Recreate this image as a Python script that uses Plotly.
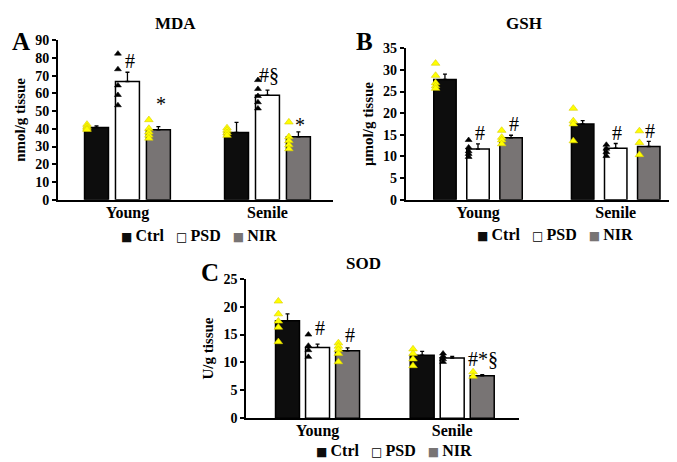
import plotly.graph_objects as go

# ---------------- data ----------------
groups = ["Young", "Senile"]
treatments = ["Ctrl", "PSD", "NIR"]
panel_titles = ["MDA", "GSH", "SOD"]
panel_letters = ["A", "B", "C"]
y_titles = ["nmol/g tissue", "µmol/g tissue", "U/g tissue"]

# MDA
mda_ctrl_mean = [40.7, 38.0]
mda_ctrl_err = [0.9, 5.6]
mda_psd_mean = [66.7, 59.0]
mda_psd_err = [5.2, 2.8]
mda_nir_mean = [39.5, 35.5]
mda_nir_err = [1.8, 2.8]
mda_ctrl_young = [42.5, 41.3, 40.3, 39.6]
mda_ctrl_senile = [40.5, 39.2, 37.8, 36.3]
mda_psd_young = [82.4, 73.6, 64.5, 59.1, 53.3]
mda_psd_senile = [67.5, 62.5, 58.5, 55.0, 51.5]
mda_nir_young = [45.1, 40.2, 38.2, 36.4, 34.7]
mda_nir_senile = [43.8, 35.5, 33.3, 30.9, 28.7]
mda_sig = [["", "#", "*"], ["", "#§", "*"]]

# GSH
gsh_ctrl_mean = [27.8, 17.5]
gsh_ctrl_err = [1.2, 0.8]
gsh_psd_mean = [11.7, 11.9]
gsh_psd_err = [1.2, 1.1]
gsh_nir_mean = [14.3, 12.3]
gsh_nir_err = [0.6, 1.2]
gsh_ctrl_young = [31.5, 28.7, 27.0, 26.3, 25.7]
gsh_ctrl_senile = [21.1, 18.2, 17.5, 13.6]
gsh_psd_young = [13.8, 12.1, 11.2, 10.6, 9.9]
gsh_psd_senile = [12.7, 11.8, 11.0, 10.1]
gsh_nir_young = [16.0, 14.4, 13.8, 12.9]
gsh_nir_senile = [15.9, 13.2, 10.4]
gsh_sig = [["", "#", "#"], ["", "#", "#"]]

# SOD
sod_ctrl_mean = [17.5, 11.3]
sod_ctrl_err = [1.2, 0.7]
sod_psd_mean = [12.7, 10.8]
sod_psd_err = [0.6, 0.3]
sod_nir_mean = [12.1, 7.6]
sod_nir_err = [0.5, 0.2]
sod_ctrl_young = [21.0, 18.7, 17.4, 16.3, 13.7]
sod_ctrl_senile = [12.4, 11.6, 10.6, 9.4]
sod_psd_young = [15.0, 13.0, 12.2, 11.0]
sod_psd_senile = [11.6, 11.1, 10.6, 10.1]
sod_nir_young = [13.5, 12.9, 12.3, 11.6, 10.1]
sod_nir_senile = [8.3, 7.5]
sod_sig = [["", "#", "#"], ["", "", "#*§"]]

# ---------------- style / layout ----------------
FONT = "Liberation Serif"
bar_fill = ["#0d0d0d", "#ffffff", "#787474"]
legend_glyph = ["■", "□", "■"]
legend_glyph_color = ["#0d0d0d", "#000000", "#787474"]
point_fill = ["#ffff00", "#000000", "#ffff00"]
point_line = ["#d8cc00", "#000000", "#d8cc00"]

# label (text-centre) heights for significance marks, in data units
mda_sig_y = [[None, 78.0, 53.8], [None, 70.5, 42.0]]
gsh_sig_y = [[None, 15.5, 17.5], [None, 15.5, 15.9]]
sod_sig_y = [[None, 16.2, 14.9], [None, None, 10.7]]
sig_dx = [[0, 0.016, 0.018], [0, 0.01, 0.008]]

panels = [
    dict(means=[mda_ctrl_mean, mda_psd_mean, mda_nir_mean],
         errs=[mda_ctrl_err, mda_psd_err, mda_nir_err],
         pts=[[mda_ctrl_young, mda_ctrl_senile], [mda_psd_young, mda_psd_senile],
              [mda_nir_young, mda_nir_senile]],
         sig=mda_sig, sig_y=mda_sig_y,
         xdom=[50 / 677, 325 / 677], ydom=[1 - 191 / 462, 1 - 26 / 462],
         xr=[-0.496, 1.468], yr=[0, 90], dtick=10, sp=0.221, bw=0.171,
         title_xy=(167, 9), letter_xy=(13, 27), legend_xy=(191, 228)),
    dict(means=[gsh_ctrl_mean, gsh_psd_mean, gsh_nir_mean],
         errs=[gsh_ctrl_err, gsh_psd_err, gsh_nir_err],
         pts=[[gsh_ctrl_young, gsh_ctrl_senile], [gsh_psd_young, gsh_psd_senile],
              [gsh_nir_young, gsh_nir_senile]],
         sig=gsh_sig, sig_y=gsh_sig_y,
         xdom=[397.7 / 677, 673 / 677], ydom=[1 - 191 / 462, 1 - 34.3 / 462],
         xr=[-0.525, 1.474], yr=[0, 35], dtick=5, sp=0.24, bw=0.163,
         title_xy=(516, 9), letter_xy=(356, 27), legend_xy=(547, 227)),
    dict(means=[sod_ctrl_mean, sod_psd_mean, sod_nir_mean],
         errs=[sod_ctrl_err, sod_psd_err, sod_nir_err],
         pts=[[sod_ctrl_young, sod_ctrl_senile], [sod_psd_young, sod_psd_senile],
              [sod_nir_young, sod_nir_senile]],
         sig=sod_sig, sig_y=sod_sig_y,
         xdom=[238.3 / 677, 511 / 677], ydom=[1 - 416.7 / 462, 1 - 272.7 / 462],
         xr=[-0.529, 1.496], yr=[0, 25], dtick=5, sp=0.223, bw=0.178,
         title_xy=(355, 257), letter_xy=(202, 266), legend_xy=(386, 450)),
]

W, H = 677, 462
NB = "\u00a0"
THIN = "\u2009"
fig = go.Figure()
annotations = []
layout_axes = {}

for p_i, P in enumerate(panels):
    sfx = "" if p_i == 0 else str(p_i + 1)
    xa, ya = "x" + sfx, "y" + sfx
    for t_i, tname in enumerate(treatments):
        off = (t_i - 1) * P["sp"]
        xs = [g + off for g in range(len(groups))]
        fig.add_trace(go.Bar(
            x=xs, y=P["means"][t_i], width=P["bw"], xaxis=xa, yaxis=ya, name=tname,
            marker=dict(color=bar_fill[t_i], line=dict(color="#000000", width=1.5)),
            error_y=dict(type="data", symmetric=False, array=P["errs"][t_i],
                         arrayminus=[0] * len(groups), color="#000000",
                         thickness=1.3, width=2),
            showlegend=False, hoverinfo="skip"))
    for t_i, tname in enumerate(treatments):
        off = (t_i - 1) * P["sp"]
        for g_i, vals in enumerate(P["pts"][t_i]):
            fig.add_trace(go.Scatter(
                x=[g_i + off - 0.068] * len(vals), y=vals, mode="markers",
                xaxis=xa, yaxis=ya,
                marker=dict(symbol="triangle-up", size=7.5 if t_i != 1 else 6,
                            color=point_fill[t_i],
                            line=dict(color=point_line[t_i], width=0.6)),
                showlegend=False, hoverinfo="skip"))
    # significance labels
    for g_i in range(len(groups)):
        for t_i in range(len(treatments)):
            txt = P["sig"][g_i][t_i]
            if not txt:
                continue
            annotations.append(dict(
                x=g_i + (t_i - 1) * P["sp"] + sig_dx[g_i][t_i], y=P["sig_y"][g_i][t_i],
                xref=xa, yref=ya, text=txt, showarrow=False,
                xanchor="center", yanchor="middle",
                font=dict(family=FONT, size=20, color="#000000")))
    # panel title and letter
    tx, ty = P["title_xy"]
    annotations.append(dict(x=tx / W, y=1 - ty / H, xref="paper", yref="paper",
                            text="<b>%s</b>" % panel_titles[p_i], showarrow=False,
                            xanchor="center", yanchor="middle",
                            font=dict(family=FONT, size=17, color="#000000")))
    lx, ly = P["letter_xy"]
    annotations.append(dict(x=lx / W, y=1 - ly / H, xref="paper", yref="paper",
                            text="<b>%s</b>" % panel_letters[p_i], showarrow=False,
                            xanchor="center", yanchor="middle",
                            font=dict(family=FONT, size=25, color="#000000")))
    # legend (text key under each panel)
    parts = []
    for t_i, tname in enumerate(treatments):
        parts.append("<span style='font-family:DejaVu Sans;font-size:12px;color:%s'>%s</span>"
                     "%s<b>%s</b>" % (legend_glyph_color[t_i], legend_glyph[t_i], THIN, tname))
    lgx, lgy = P["legend_xy"]
    annotations.append(dict(x=lgx / W, y=1 - lgy / H, xref="paper", yref="paper",
                            text=(NB * 3).join(parts), showarrow=False,
                            xanchor="center", yanchor="middle",
                            font=dict(family=FONT, size=16, color="#000000")))
    layout_axes["xaxis" + sfx] = dict(
        domain=P["xdom"], range=P["xr"], anchor=ya, showline=True, linecolor="#000000",
        linewidth=2, ticks="", tickvals=list(range(len(groups))), ticktext=groups,
        ticklabelstandoff=-3,
        tickfont=dict(family=FONT, size=16, color="#000000", weight="bold"),
        showgrid=False, zeroline=False, fixedrange=True)
    layout_axes["yaxis" + sfx] = dict(
        domain=P["ydom"], range=P["yr"], anchor=xa, showline=True, linecolor="#000000",
        linewidth=2, ticks="outside", ticklen=4, tickwidth=1.5, tickcolor="#000000",
        dtick=P["dtick"], tick0=0,
        tickfont=dict(family=FONT, size=14, color="#000000", weight="bold"),
        title=dict(text="<b>%s</b>" % y_titles[p_i], standoff=6,
                   font=dict(family=FONT, size=15, color="#000000")),
        showgrid=False, zeroline=False, fixedrange=True)

fig.update_layout(
    width=W, height=H, margin=dict(l=0, r=0, t=0, b=0),
    paper_bgcolor="#ffffff", plot_bgcolor="#ffffff",
    barmode="overlay", annotations=annotations, showlegend=False,
    font=dict(family=FONT, color="#000000"),
    **layout_axes)

fig.write_html("out.html")
